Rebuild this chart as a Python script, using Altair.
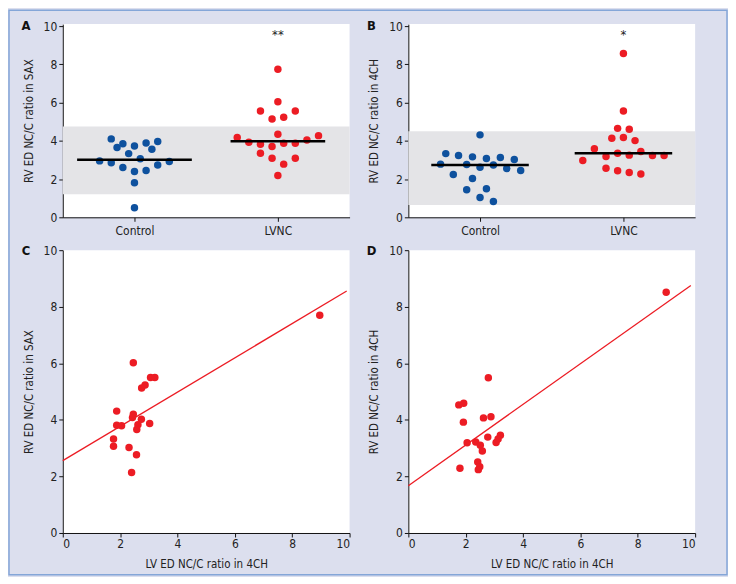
import altair as alt
import pandas as pd
import numpy as np

# ---------------- data ----------------
groups = ["Control", "LVNC"]
panel_letters = ["A", "B", "C", "D"]

# Panel A: RV ED NC/C ratio in SAX (strip plot)
a_control = [4.10, 3.96, 3.89, 3.85, 3.73, 3.65, 3.56, 3.33, 3.06, 2.95, 2.92, 2.85, 2.73, 2.60, 2.45, 2.40, 1.81, 0.50]
a_control_jitter = [-4, 4, 2, -2, 0, -3, 3, -1, 1, -6, 6, -4, 4, -2, 2, 0, 0, 0]
a_lvnc = [7.74, 6.04, 5.56, 5.56, 5.14, 5.23, 4.34, 4.17, 4.27, 3.92, 3.82, 3.70, 3.87, 3.87, 4.04, 3.35, 3.09, 3.09, 2.78, 2.19]
a_lvnc_jitter = [0, 0, -3, 3, -1, 1, 0, -7, 7, -5, -3, -1, 1, 3, 5, -3, -1, 3, 1, 0]
a_normal_range = [1.2, 4.75]
a_stars = ["", "**"]

# Panel B: RV ED NC/C ratio in 4CH (strip plot)
b_control = [4.31, 3.33, 3.23, 3.16, 3.13, 3.07, 3.02, 2.78, 2.76, 2.74, 2.62, 2.55, 2.45, 2.24, 2.03, 1.44, 1.49, 1.04, 0.83]
b_control_jitter = [0, -5.9, -3.7, -1.3, 3.5, 1.1, 5.9, -6.8, -2.3, 2.3, 0, 4.6, 7.0, -4.6, -1.3, -2.3, 1.1, 0, 2.3]
b_lvnc = [8.56, 5.56, 4.65, 4.60, 4.13, 4.17, 4.01, 3.58, 2.97, 3.18, 3.35, 3.25, 3.44, 3.23, 3.23, 2.57, 2.43, 2.34, 2.26]
b_lvnc_jitter = [0, 0, -1, 1, -2, 0, 2, -5, -7, -3, -1, 1, 3, 5, 7, -3, -1, 1, 3]
b_normal_range = [0.65, 4.5]
b_stars = ["", "*"]
star_level = 9.55

# Panel C: LV 4CH vs RV SAX
c_lv = [8.96, 2.46, 3.06, 3.21, 2.75, 2.87, 1.88, 2.46, 2.43, 2.74, 1.88, 2.05, 3.03, 2.62, 2.58, 1.77, 1.77, 2.31, 2.57, 2.40]
c_rv = [7.70, 6.02, 5.50, 5.50, 5.13, 5.23, 4.31, 4.20, 4.08, 4.02, 3.81, 3.79, 3.87, 3.83, 3.66, 3.32, 3.07, 3.02, 2.77, 2.14]
c_fit_extent = [0, 9.9]

# Panel D: LV 4CH vs RV 4CH
d_lv = [8.99, 2.79, 1.76, 1.93, 1.92, 2.62, 2.88, 2.77, 3.21, 3.06, 2.05, 2.35, 2.51, 2.58, 2.42, 2.49, 2.44, 1.80, 3.13]
d_rv = [8.51, 5.49, 4.53, 4.59, 3.92, 4.07, 4.11, 3.39, 3.46, 3.20, 3.19, 3.22, 3.10, 2.90, 2.51, 2.34, 2.24, 2.29, 3.32]
d_fit_extent = [0, 9.85]

tick_vals = [0, 2, 4, 6, 8, 10]

# ---------------- style ----------------
FONT = "DejaVu Sans Condensed, Liberation Sans Narrow, Arial Narrow, sans-serif"
BLUE = "#0e519e"
RED = "#ec1c24"
BAND = "#e4e4e7"
BG = "#dcdfee"
FRAME = "#84a6d8"
W = 288
H_TOP = 194
H_BOT = 284
JSTEP = 0.0405          # one jitter slot in x-scale units
CENTERS = [0.5, 1.5]
MED_HALF = {"A": [0.40, 0.33], "B": [0.34, 0.34]}


def letter_layer(letter, y):
    return alt.Chart(pd.DataFrame({"t": [letter]})).mark_text(
        font=FONT, fontSize=13, fontWeight="bold", color="#111", align="center", baseline="middle"
    ).encode(text="t:N", x=alt.value(-37), y=alt.value(y))


def strip_panel(ctrl, ctrl_j, lvnc, lvnc_j, rng, stars, ytitle, letter, frame=False):
    df = pd.DataFrame({
        "group": [groups[0]] * len(ctrl) + [groups[1]] * len(lvnc),
        "value": ctrl + lvnc,
        "jit": ctrl_j + lvnc_j,
    })
    cmap = dict(zip(groups, CENTERS))
    df["pos"] = df["group"].map(cmap) + df["jit"] * JSTEP
    med = df.groupby("group")["value"].median().reindex(groups).reset_index()
    med["x1"] = [c - h for c, h in zip(CENTERS, MED_HALF[letter])]
    med["x2"] = [c + h for c, h in zip(CENTERS, MED_HALF[letter])]
    star_df = pd.DataFrame({"pos": CENTERS, "value": [star_level] * 2, "t": stars})
    band_df = pd.DataFrame({"pos": [0], "x2": [2], "value": [rng[0]], "hi": [rng[1]]})

    xs = alt.Scale(domain=[0, 2], nice=False, zero=False)
    ys = alt.Scale(domain=[0, 10.1], nice=False)
    xaxis = alt.Axis(values=CENTERS, title=None, labelFontSize=12, labelPadding=4, labelOverlap=False,
                     labelExpr="datum.value < 1 ? 'Control' : 'LVNC'")
    yaxis = alt.Axis(values=tick_vals, title=ytitle, labelOverlap=False)
    X = alt.X("pos:Q", scale=xs, axis=xaxis)
    Y = alt.Y("value:Q", scale=ys, axis=yaxis)

    band = alt.Chart(band_df).mark_rect(color=BAND).encode(x=X, x2="x2:Q", y=Y, y2="hi:Q")
    pts = alt.Chart(df).mark_circle(size=56, opacity=1).encode(
        x=X, y=Y,
        color=alt.Color("group:N", scale=alt.Scale(domain=groups, range=[BLUE, RED]), legend=None))
    medl = alt.Chart(med).mark_rule(color="black", strokeWidth=2.5).encode(
        x=alt.X("x1:Q", scale=xs, axis=xaxis), x2="x2:Q", y=Y)
    st = alt.Chart(star_df).mark_text(font=FONT, fontSize=13, color="#222", baseline="middle").encode(
        x=X, y=Y, text="t:N")
    layers = [band, pts, medl, st, letter_layer(letter, 2)]
    if frame:
        fr = alt.Chart(pd.DataFrame({"t": [0]})).mark_rect(
            fill=None, stroke=FRAME, strokeWidth=1.5
        ).encode(x=alt.value(-54), x2=alt.value(667), y=alt.value(-14), y2=alt.value(553))
        layers.append(fr)
    return alt.layer(*layers).properties(width=W, height=H_TOP)


def scatter_panel(lv, rv, ext, ytitle, letter):
    df = pd.DataFrame({"lv": lv, "rv": rv})
    xs = alt.Scale(domain=[0, 10], nice=False)
    ys = alt.Scale(domain=[0, 10], nice=False)
    X = alt.X("lv:Q", scale=xs, axis=alt.Axis(values=tick_vals, title="LV ED NC/C ratio in 4CH", labelOverlap=False))
    Y = alt.Y("rv:Q", scale=ys, axis=alt.Axis(values=tick_vals, title=ytitle, labelOverlap=False))
    pts = alt.Chart(df).mark_circle(size=56, opacity=1, color=RED).encode(x=X, y=Y)
    fit = alt.Chart(df).transform_regression("lv", "rv", extent=ext).mark_line(
        color=RED, strokeWidth=1.3).encode(x=X, y=Y)
    return alt.layer(fit, pts, letter_layer(letter, 1)).properties(width=W, height=H_BOT)


pa = strip_panel(a_control, a_control_jitter, a_lvnc, a_lvnc_jitter, a_normal_range, a_stars,
                 "RV ED NC/C ratio in SAX", panel_letters[0], frame=True)
pb = strip_panel(b_control, b_control_jitter, b_lvnc, b_lvnc_jitter, b_normal_range, b_stars,
                 "RV ED NC/C ratio in 4CH", panel_letters[1])
pc = scatter_panel(c_lv, c_rv, c_fit_extent, "RV ED NC/C ratio in SAX", panel_letters[2])
pd_ = scatter_panel(d_lv, d_rv, d_fit_extent, "RV ED NC/C ratio in 4CH", panel_letters[3])

chart = alt.concat(
    pa, pb, pc, pd_, columns=2,
    spacing=alt.RowColnumber(row=33, column=59) if hasattr(alt, "RowColnumber") else {"row": 33, "column": 59},
    bounds="flush",
).properties(
    background=BG,
    padding=0,
).configure_view(
    stroke=None, fill="white"
).configure_axis(
    domainColor="#111", tickColor="#111", labelColor="#222", titleColor="#222",
    labelFont=FONT, titleFont=FONT, labelFontSize=12, titleFontSize=11.5,
    titleFontWeight="normal", grid=False, tickSize=4, titlePadding=9, labelPadding=2,
)

chart.save("out.html", embed_options={"renderer": "svg", "actions": False})
